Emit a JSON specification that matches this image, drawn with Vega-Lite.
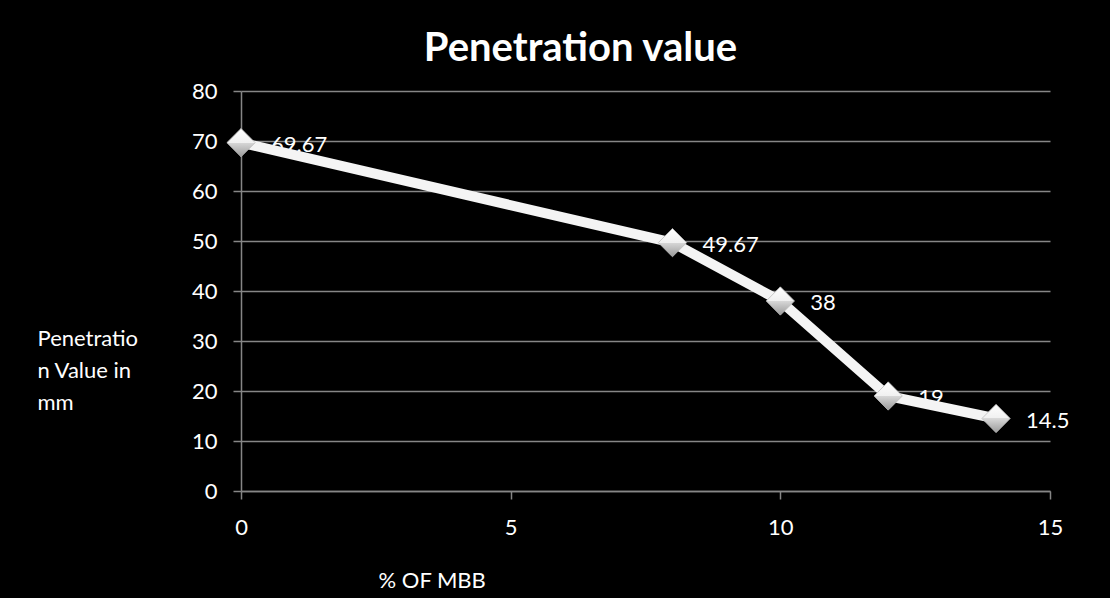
{
  "$schema": "https://vega.github.io/schema/vega-lite/v6.json",
  "width": 809,
  "height": 400,
  "autosize": {"type": "none"},
  "padding": {"left": 241, "top": 91, "right": 60, "bottom": 107},
  "background": "black",
  "config": {
    "view": {"stroke": null},
    "font": "Lato"
  },
  "title": {
    "text": "Penetration value",
    "font": "Lato",
    "fontSize": 40,
    "fontWeight": "bold",
    "color": "white",
    "anchor": "middle",
    "dx": -65,
    "dy": 50,
    "baseline": "alphabetic",
    "offset": 29
  },
  "data": {
    "values": [
      {"mbb": 0, "pen": 69.67, "label": "69.67"},
      {"mbb": 8, "pen": 49.67, "label": "49.67"},
      {"mbb": 10, "pen": 38, "label": "38"},
      {"mbb": 12, "pen": 19, "label": "19"},
      {"mbb": 14, "pen": 14.5, "label": "14.5"}
    ]
  },
  "encoding": {
    "x": {
      "field": "mbb",
      "type": "quantitative",
      "scale": {"domain": [0, 15], "nice": false},
      "axis": {
        "values": [0, 5, 10, 15],
        "title": "% OF MBB",
        "titleX": 137,
        "titleY": 89,
        "titleAlign": "left",
        "titleBaseline": "middle",
        "titleColor": "white",
        "titleFont": "Lato",
        "titleFontSize": 22,
        "titleFontWeight": "normal",
        "labelColor": "white",
        "labelFont": "Lato",
        "labelFontSize": 22,
        "labelPadding": 18,
        "labelFlush": false,
        "domainColor": "#868686",
        "domainWidth": 1.5,
        "tickColor": "#868686",
        "tickWidth": 1.5,
        "tickSize": 8,
        "grid": false
      }
    },
    "y": {
      "field": "pen",
      "type": "quantitative",
      "scale": {"domain": [0, 80], "nice": false},
      "axis": {
        "values": [0, 10, 20, 30, 40, 50, 60, 70, 80],
        "title": ["Penetratio", "n Value in", "mm"],
        "titleAngle": 0,
        "titleX": -204,
        "titleY": 237,
        "titleAlign": "left",
        "titleBaseline": "top",
        "titleLineHeight": 32,
        "titleColor": "white",
        "titleFont": "Lato",
        "titleFontSize": 22,
        "titleFontWeight": "normal",
        "labelColor": "white",
        "labelFont": "Lato",
        "labelFontSize": 22,
        "labelPadding": 16,
        "domainColor": "#868686",
        "domainWidth": 1.5,
        "tickColor": "#868686",
        "tickWidth": 1.5,
        "tickSize": 8,
        "grid": true,
        "gridColor": "#868686",
        "gridWidth": 1.5
      }
    }
  },
  "layer": [
    {
      "mark": {"type": "text", "align": "left", "baseline": "middle", "dx": 30, "dy": 2, "fontSize": 22, "font": "Lato", "color": "white"},
      "encoding": {"text": {"field": "label"}}
    },
    {
      "mark": {"type": "line", "color": "#f4f4f4", "strokeWidth": 10, "strokeJoin": "round"}
    },
    {
      "mark": {
        "type": "point",
        "shape": "diamond",
        "filled": true,
        "size": 800,
        "opacity": 1,
        "stroke": "#bdbdbd",
        "strokeWidth": 0.8,
        "fill": {
          "gradient": "linear",
          "x1": 0, "y1": 0, "x2": 0, "y2": 1,
          "stops": [
            {"offset": 0, "color": "#ffffff"},
            {"offset": 0.5, "color": "#f0f0f0"},
            {"offset": 0.5, "color": "#d8d8d8"},
            {"offset": 1, "color": "#9a9a9a"}
          ]
        }
      }
    }
  ]
}
